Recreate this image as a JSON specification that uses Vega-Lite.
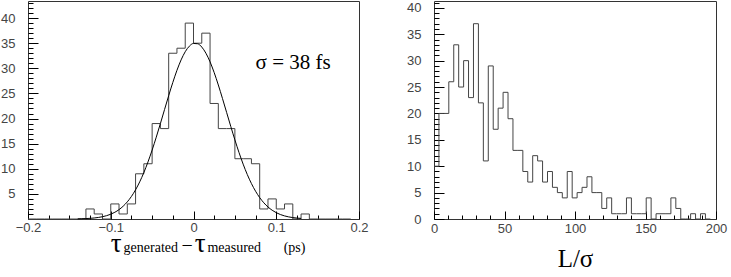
{
  "$schema": "https://vega.github.io/schema/vega-lite/v6.json",
  "padding": {"left": 0, "top": 0, "right": 0, "bottom": 0},
  "background": "white",
  "spacing": 37,
  "config": {
    "view": {"stroke": "#333", "strokeWidth": 1},
    "axis": {"grid": false, "domain": false, "labelFont": "Liberation Sans", "labelFontSize": 13, "labelColor": "#444", "tickColor": "#000", "tickWidth": 1, "labelFlush": false, "labelOverlap": false}
  },
  "hconcat": [
    {
      "width": 331,
      "height": 218,
      "resolve": {"axis": {"x": "independent", "y": "independent"}},
      "layer": [
        {
          "data": {"values": [
            {"t": -0.20, "n": 0}, {"t": -0.19, "n": 0}, {"t": -0.18, "n": 0}, {"t": -0.17, "n": 0},
            {"t": -0.16, "n": 0}, {"t": -0.15, "n": 0}, {"t": -0.14, "n": 0}, {"t": -0.13, "n": 2},
            {"t": -0.12, "n": 1}, {"t": -0.11, "n": 0}, {"t": -0.10, "n": 3}, {"t": -0.09, "n": 1},
            {"t": -0.08, "n": 3}, {"t": -0.07, "n": 9}, {"t": -0.06, "n": 11}, {"t": -0.05, "n": 19},
            {"t": -0.04, "n": 18}, {"t": -0.03, "n": 33}, {"t": -0.02, "n": 34}, {"t": -0.01, "n": 39},
            {"t": 0.00, "n": 35}, {"t": 0.01, "n": 37}, {"t": 0.02, "n": 23}, {"t": 0.03, "n": 18},
            {"t": 0.04, "n": 18}, {"t": 0.05, "n": 12}, {"t": 0.06, "n": 12}, {"t": 0.07, "n": 11},
            {"t": 0.08, "n": 2}, {"t": 0.09, "n": 4}, {"t": 0.10, "n": 2}, {"t": 0.11, "n": 3},
            {"t": 0.12, "n": 0}, {"t": 0.13, "n": 1}, {"t": 0.14, "n": 0}, {"t": 0.15, "n": 0},
            {"t": 0.16, "n": 0}, {"t": 0.17, "n": 0}, {"t": 0.18, "n": 0}, {"t": 0.19, "n": 0}
          ]},
          "mark": {"type": "line", "interpolate": "step-after", "color": "#444", "strokeWidth": 1},
          "encoding": {
            "x": {"field": "t", "type": "quantitative",
                  "scale": {"domain": [-0.2, 0.2], "nice": false, "zero": false},
                  "axis": {"orient": "bottom", "values": [-0.2, -0.1, 0, 0.1, 0.2], "tickSize": -8, "labelPadding": 10, "title": null,
                           "labelExpr": "datum.value == 0 ? '0' : format(datum.value, '.1f')"}},
            "y": {"field": "n", "type": "quantitative",
                  "scale": {"domain": [0, 43.4], "nice": false},
                  "axis": {"orient": "left", "values": [5, 10, 15, 20, 25, 30, 35, 40], "ticks": false, "labelPadding": 13, "title": null}}
          }
        },
        {
          "data": {"values": [
            {"t": -0.140, "f": 0.032}, {"t": -0.135, "f": 0.053}, {"t": -0.130, "f": 0.084}, {"t": -0.125, "f": 0.131},
            {"t": -0.120, "f": 0.202}, {"t": -0.115, "f": 0.306}, {"t": -0.110, "f": 0.455}, {"t": -0.105, "f": 0.665},
            {"t": -0.100, "f": 0.954}, {"t": -0.095, "f": 1.346}, {"t": -0.090, "f": 1.867}, {"t": -0.085, "f": 2.546},
            {"t": -0.080, "f": 3.412}, {"t": -0.075, "f": 4.494}, {"t": -0.070, "f": 5.813}, {"t": -0.065, "f": 7.395},
            {"t": -0.060, "f": 9.247}, {"t": -0.055, "f": 11.36}, {"t": -0.050, "f": 13.72}, {"t": -0.045, "f": 16.29},
            {"t": -0.040, "f": 19.00}, {"t": -0.035, "f": 21.79}, {"t": -0.030, "f": 24.55}, {"t": -0.025, "f": 27.19},
            {"t": -0.020, "f": 29.60}, {"t": -0.015, "f": 31.67}, {"t": -0.010, "f": 33.30}, {"t": -0.005, "f": 34.41},
            {"t": 0.000, "f": 34.95}, {"t": 0.005, "f": 34.89}, {"t": 0.010, "f": 34.23}, {"t": 0.015, "f": 33.01},
            {"t": 0.020, "f": 31.29}, {"t": 0.025, "f": 29.14}, {"t": 0.030, "f": 26.68}, {"t": 0.035, "f": 24.00},
            {"t": 0.040, "f": 21.23}, {"t": 0.045, "f": 18.45}, {"t": 0.050, "f": 15.76}, {"t": 0.055, "f": 13.23},
            {"t": 0.060, "f": 10.92}, {"t": 0.065, "f": 8.855}, {"t": 0.070, "f": 7.059}, {"t": 0.075, "f": 5.530},
            {"t": 0.080, "f": 4.257}, {"t": 0.085, "f": 3.220}, {"t": 0.090, "f": 2.396}, {"t": 0.095, "f": 1.752},
            {"t": 0.100, "f": 1.258}, {"t": 0.105, "f": 0.888}, {"t": 0.110, "f": 0.617}, {"t": 0.115, "f": 0.421},
            {"t": 0.120, "f": 0.282}, {"t": 0.125, "f": 0.186}, {"t": 0.130, "f": 0.120}
          ]},
          "mark": {"type": "line", "interpolate": "monotone", "color": "#000", "strokeWidth": 1},
          "encoding": {
            "x": {"field": "t", "type": "quantitative",
                  "axis": {"orient": "bottom", "values": [-0.175, -0.15, -0.125, -0.075, -0.05, -0.025, 0.025, 0.05, 0.075, 0.125, 0.15, 0.175], "tickSize": -4, "labels": false, "title": null}},
            "y": {"field": "f", "type": "quantitative",
                  "axis": {"orient": "left", "values": [1, 2, 3, 4, 6, 7, 8, 9, 11, 12, 13, 14, 16, 17, 18, 19, 21, 22, 23, 24, 26, 27, 28, 29, 31, 32, 33, 34, 36, 37, 38, 39, 41, 42, 43], "offset": -5, "tickSize": 5, "labels": false, "title": null}}
          }
        },
        {
          "data": {"values": [{"s": "σ = 38 fs"}]},
          "mark": {"type": "text", "font": "Liberation Serif", "fontSize": 21, "align": "left", "baseline": "alphabetic", "color": "#000"},
          "encoding": {
            "x": {"datum": 0.075, "type": "quantitative", "axis": null},
            "y": {"datum": 29.8, "type": "quantitative",
                  "axis": {"orient": "left", "values": [5, 10, 15, 20, 25, 30, 35, 40], "offset": -10, "tickSize": 10, "labels": false, "title": null}},
            "text": {"field": "s"}
          }
        },
        {
          "data": {"values": [{"s": "τ"}]},
          "mark": {"type": "text", "font": "Liberation Serif", "fontSize": 27, "align": "left", "baseline": "alphabetic", "color": "#000"},
          "encoding": {
            "x": {"datum": -0.1001, "type": "quantitative", "axis": null},
            "y": {"datum": -6.5, "type": "quantitative", "axis": null},
            "text": {"field": "s"}
          }
        },
        {
          "data": {"values": [{"s": "generated"}]},
          "mark": {"type": "text", "font": "Liberation Serif", "fontSize": 14, "align": "left", "baseline": "alphabetic", "color": "#000"},
          "encoding": {
            "x": {"datum": -0.0845, "type": "quantitative", "axis": null},
            "y": {"datum": -6.5, "type": "quantitative", "axis": null},
            "text": {"field": "s"}
          }
        },
        {
          "data": {"values": [{"s": "−"}]},
          "mark": {"type": "text", "font": "Liberation Serif", "fontSize": 20, "align": "left", "baseline": "alphabetic", "color": "#000"},
          "encoding": {
            "x": {"datum": -0.0146, "type": "quantitative", "axis": null},
            "y": {"datum": -6.5, "type": "quantitative", "axis": null},
            "text": {"field": "s"}
          }
        },
        {
          "data": {"values": [{"s": "τ"}]},
          "mark": {"type": "text", "font": "Liberation Serif", "fontSize": 27, "align": "left", "baseline": "alphabetic", "color": "#000"},
          "encoding": {
            "x": {"datum": 0.0015, "type": "quantitative", "axis": null},
            "y": {"datum": -6.5, "type": "quantitative", "axis": null},
            "text": {"field": "s"}
          }
        },
        {
          "data": {"values": [{"s": "measured"}]},
          "mark": {"type": "text", "font": "Liberation Serif", "fontSize": 14, "align": "left", "baseline": "alphabetic", "color": "#000"},
          "encoding": {
            "x": {"datum": 0.0168, "type": "quantitative", "axis": null},
            "y": {"datum": -6.5, "type": "quantitative", "axis": null},
            "text": {"field": "s"}
          }
        },
        {
          "data": {"values": [{"s": "(ps)"}]},
          "mark": {"type": "text", "font": "Liberation Serif", "fontSize": 14, "align": "left", "baseline": "alphabetic", "color": "#000"},
          "encoding": {
            "x": {"datum": 0.1090, "type": "quantitative", "axis": null},
            "y": {"datum": -6.5, "type": "quantitative", "axis": null},
            "text": {"field": "s"}
          }
        }
      ]
    },
    {
      "width": 282,
      "height": 218,
      "data": {"values": [
        {"L": 0, "n": 10}, {"L": 3.5, "n": 20}, {"L": 7, "n": 20}, {"L": 10.5, "n": 26},
        {"L": 14, "n": 33}, {"L": 17.5, "n": 25}, {"L": 21, "n": 30}, {"L": 24.5, "n": 23},
        {"L": 28, "n": 37}, {"L": 31.5, "n": 22}, {"L": 35, "n": 11}, {"L": 38.5, "n": 29},
        {"L": 42, "n": 17}, {"L": 45.5, "n": 21}, {"L": 49, "n": 24}, {"L": 52.5, "n": 19},
        {"L": 56, "n": 13}, {"L": 59.5, "n": 13}, {"L": 63, "n": 9}, {"L": 66.5, "n": 7},
        {"L": 70, "n": 12}, {"L": 73.5, "n": 11}, {"L": 77, "n": 7}, {"L": 80.5, "n": 9},
        {"L": 84, "n": 6}, {"L": 87.5, "n": 5}, {"L": 91, "n": 4}, {"L": 94.5, "n": 9},
        {"L": 98, "n": 4}, {"L": 101.5, "n": 5}, {"L": 105, "n": 6}, {"L": 108.5, "n": 8},
        {"L": 112, "n": 5}, {"L": 115.5, "n": 5}, {"L": 119, "n": 2}, {"L": 122.5, "n": 4},
        {"L": 126, "n": 1}, {"L": 129.5, "n": 1}, {"L": 133, "n": 1}, {"L": 136.5, "n": 4},
        {"L": 140, "n": 1}, {"L": 143.5, "n": 1}, {"L": 147, "n": 1}, {"L": 150.5, "n": 4},
        {"L": 154, "n": 0}, {"L": 157.5, "n": 1}, {"L": 161, "n": 1}, {"L": 164.5, "n": 1},
        {"L": 168, "n": 4}, {"L": 171.5, "n": 2}, {"L": 175, "n": 0}, {"L": 178.5, "n": 0},
        {"L": 182, "n": 1}, {"L": 185.5, "n": 0}, {"L": 189, "n": 1}, {"L": 192.5, "n": 0},
        {"L": 196, "n": 0}
      ]},
      "resolve": {"axis": {"x": "independent", "y": "independent"}},
      "layer": [
        {
          "mark": {"type": "line", "interpolate": "step-after", "color": "#444", "strokeWidth": 1},
          "encoding": {
            "x": {"field": "L", "type": "quantitative",
                  "scale": {"domain": [0, 200], "nice": false, "zero": false},
                  "axis": {"orient": "bottom", "values": [0, 50, 100, 150, 200], "tickSize": -8, "labelPadding": 11,
                           "title": "L/σ", "titleFont": "Liberation Serif", "titleFontSize": 25, "titleFontWeight": "normal", "titleColor": "#000", "titlePadding": 11}},
            "y": {"field": "n", "type": "quantitative",
                  "scale": {"domain": [0, 41.3], "nice": false},
                  "axis": {"orient": "left", "values": [0, 5, 10, 15, 20, 25, 30, 35, 40], "ticks": false, "labelPadding": 13, "title": null}}
          }
        },
        {
          "mark": {"type": "line", "interpolate": "step-after", "strokeOpacity": 0},
          "encoding": {
            "x": {"field": "L", "type": "quantitative",
                  "axis": {"orient": "bottom", "values": [10, 20, 30, 40, 60, 70, 80, 90, 110, 120, 130, 140, 160, 170, 180, 190], "tickSize": -4, "labels": false, "title": null}},
            "y": {"field": "n", "type": "quantitative",
                  "axis": {"orient": "left", "values": [1, 2, 3, 4, 6, 7, 8, 9, 11, 12, 13, 14, 16, 17, 18, 19, 21, 22, 23, 24, 26, 27, 28, 29, 31, 32, 33, 34, 36, 37, 38, 39, 41], "offset": -5, "tickSize": 5, "labels": false, "title": null}}
          }
        },
        {
          "mark": {"type": "line", "interpolate": "step-after", "strokeOpacity": 0},
          "encoding": {
            "x": {"field": "L", "type": "quantitative", "axis": null},
            "y": {"field": "n", "type": "quantitative",
                  "axis": {"orient": "left", "values": [0, 5, 10, 15, 20, 25, 30, 35, 40], "offset": -10, "tickSize": 10, "labels": false, "title": null}}
          }
        }
      ]
    }
  ]
}
